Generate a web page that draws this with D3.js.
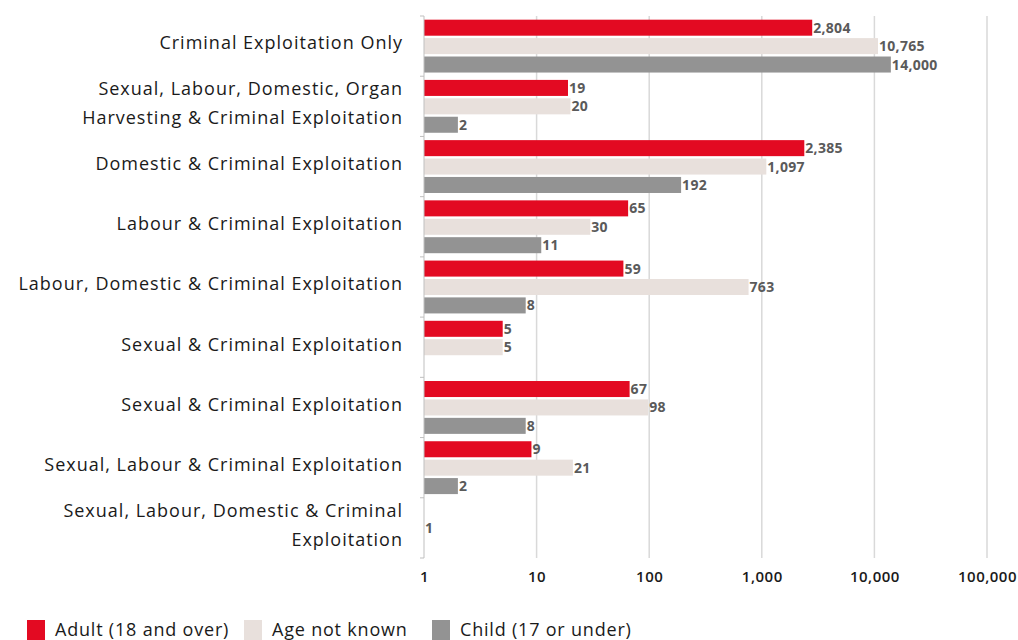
<!DOCTYPE html>
<html><head><meta charset="utf-8">
<script src="https://cdn.jsdelivr.net/npm/d3@7"></script>
<style>
html,body{margin:0;padding:0;background:#fff;}
svg{display:block;}
</style></head>
<body>
<svg id="chart" width="1018" height="640"></svg>
<script>
const categories = [
  ["Criminal Exploitation Only"],
  ["Sexual, Labour, Domestic, Organ", "Harvesting & Criminal Exploitation"],
  ["Domestic & Criminal Exploitation"],
  ["Labour & Criminal Exploitation"],
  ["Labour, Domestic & Criminal Exploitation"],
  ["Sexual & Criminal Exploitation"],
  ["Sexual & Criminal Exploitation"],
  ["Sexual, Labour & Criminal Exploitation"],
  ["Sexual, Labour, Domestic & Criminal", "Exploitation"]
];
const seriesNames = ["Adult (18 and over)", "Age not known", "Child (17 or under)"];
const adult   = [2804, 19, 2385, 65, 59, 5, 67, 9, null];
const unknown = [10765, 20, 1097, 30, 763, 5, 98, 21, 1];
const child   = [14000, 2, 192, 11, 8, null, 8, 2, null];
const tickValues = [1, 10, 100, 1000, 10000, 100000];
const colors = ["#E30A22", "#E8E0DC", "#939393"];

const svg = d3.select("#chart");
const x = d3.scaleLog().domain([1, 100000]).range([424, 987]);
const y0 = d3.scaleBand().domain(d3.range(categories.length)).range([16, 558]).padding(0);
const y1 = d3.scaleBand().domain([0,1,2]).range([0, y0.bandwidth()]).paddingInner(0.13).paddingOuter(0.2);
const seriesData = [adult, unknown, child];

// gridlines
svg.append("g").selectAll("line").data(tickValues.slice(1)).join("line")
  .attr("x1", d => x(d)).attr("x2", d => x(d))
  .attr("y1", 16).attr("y2", 558)
  .attr("stroke", "#d9d9d9").attr("stroke-width", 1.5);

// x axis labels
const xAxis = d3.axisBottom(x).tickValues(tickValues).tickFormat(d3.format(",")).tickSize(0).tickPadding(0);
const gx = svg.append("g").attr("transform", "translate(0,571)").call(xAxis);
gx.select(".domain").remove();
gx.selectAll("text").attr("font-family", "Open Sans, sans-serif").attr("font-weight", 600)
  .attr("font-size", 15).attr("letter-spacing", "0.5").attr("fill", "#1a1a1a");

// bars
const groups = svg.append("g").selectAll("g").data(categories).join("g")
  .attr("transform", (d, i) => `translate(0,${y0(i)})`);

groups.each(function(cat, i) {
  const g = d3.select(this);
  seriesData.forEach((arr, s) => {
    const v = arr[i];
    if (v == null) return;
    g.append("rect")
      .attr("x", x(1)).attr("y", y1(s))
      .attr("width", Math.max(0, x(v) - x(1))).attr("height", y1.bandwidth())
      .attr("fill", colors[s]);
    g.append("text")
      .attr("x", x(v) + 1).attr("y", y1(s) + y1.bandwidth() / 2)
      .attr("dy", "0.36em")
      .attr("font-family", "Open Sans, sans-serif").attr("font-weight", 700)
      .attr("font-size", 14).attr("fill", "#5a5a5a")
      .attr("letter-spacing", "0.3")
      .text(d3.format(",")(v));
  });
});

// y axis
svg.append("line").attr("x1", 424).attr("x2", 424).attr("y1", 16).attr("y2", 558)
  .attr("stroke", "#bfbfbf").attr("stroke-width", 1);
svg.append("g").selectAll("line").data(d3.range(categories.length + 1)).join("line")
  .attr("x1", 420).attr("x2", 424)
  .attr("y1", d => d < categories.length ? y0(d) : y0.range()[1])
  .attr("y2", d => d < categories.length ? y0(d) : y0.range()[1])
  .attr("stroke", "#bfbfbf");

// category labels
const lh = 29;
svg.append("g").selectAll("text").data(categories).join("text")
  .attr("x", 403)
  .attr("y", (d, i) => y0(i) + y0.bandwidth() / 2 - 3 - (d.length - 1) * lh / 2)
  .attr("text-anchor", "end")
  .attr("font-family", "Open Sans, sans-serif").attr("font-size", 18).attr("fill", "#1a1a1a")
  .attr("letter-spacing", "1")
  .each(function(lines) {
    d3.select(this).selectAll("tspan").data(lines).join("tspan")
      .attr("x", 403).attr("dy", (l, j) => j === 0 ? "0.35em" : lh)
      .text(l => l);
  });

// legend
const legendX = [27, 244, 432];
const lg = svg.append("g").selectAll("g").data(seriesNames).join("g")
  .attr("transform", (d, i) => `translate(${legendX[i]},620)`);
lg.append("rect").attr("width", 18).attr("height", 20).attr("fill", (d, i) => colors[i]);
lg.append("text").attr("x", 28).attr("y", 10).attr("dy", "0.35em")
  .attr("font-family", "Open Sans, sans-serif").attr("font-size", 18).attr("fill", "#1a1a1a")
  .attr("letter-spacing", "0.8")
  .text(d => d);
</script>
</body></html>
